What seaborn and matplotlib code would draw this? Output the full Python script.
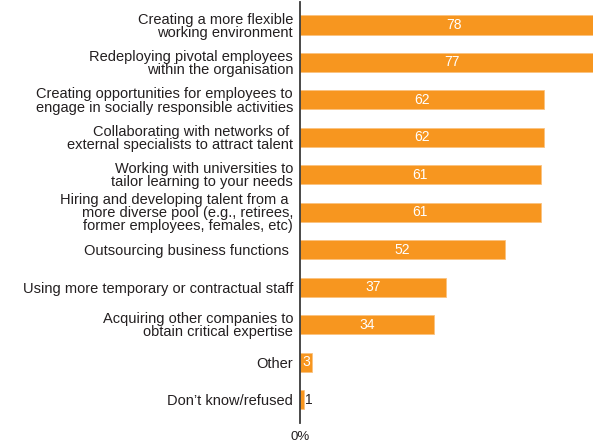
import matplotlib
matplotlib.use("Agg")
import matplotlib.pyplot as plt
import seaborn as sns

categories = [
    "Creating a more flexible\nworking environment",
    "Redeploying pivotal employees\nwithin the organisation",
    "Creating opportunities for employees to\nengage in socially responsible activities",
    "Collaborating with networks of \nexternal specialists to attract talent",
    "Working with universities to\ntailor learning to your needs",
    "Hiring and developing talent from a \nmore diverse pool (e.g., retirees,\nformer employees, females, etc)",
    "Outsourcing business functions ",
    "Using more temporary or contractual staff",
    "Acquiring other companies to\nobtain critical expertise",
    "Other",
    "Don\u2019t know/refused",
]
values = [78, 77, 62, 62, 61, 61, 52, 37, 34, 3, 1]
x_tick_labels = ["0%"]

ORANGE = "#F7961F"
TEXT = "#231F20"

sns.set_theme(style="white")
plt.rcParams["font.family"] = ["Liberation Sans", "DejaVu Sans"]

fig = plt.figure(figsize=(5.93, 4.43), dpi=100)
ax = fig.add_axes([0.5059, 0.0451, 0.4941, 0.9503])

sns.barplot(x=values, y=categories, color=ORANGE, width=0.51,
            saturation=1, ax=ax, orient="h",
            edgecolor="#FBC27F", linewidth=0.6)

ax.set_xlim(0, 74.3)
ax.set_ylim(10.627, -0.614)

for spine in ["top", "right", "bottom"]:
    ax.spines[spine].set_visible(False)
ax.spines["left"].set_color("#3a3a3a")
ax.spines["left"].set_linewidth(1.3)
ax.spines["left"].set_zorder(5)

ax.set_xticks([0])
ax.set_xticklabels(x_tick_labels, fontsize=9.5, color=TEXT)
ax.tick_params(axis="x", length=0, pad=6)
ax.tick_params(axis="y", length=0, pad=5)
for lbl in ax.get_yticklabels():
    lbl.set_fontsize(10.5)
    lbl.set_color(TEXT)
    lbl.set_linespacing(0.92)
ax.set_xlabel("")
ax.set_ylabel("")

# value labels: inside the bar in white, outside in dark for tiny bars
for i, v in enumerate(values):
    if v >= 3:
        ax.text(v / 2, i, str(v), ha="center", va="center",
                color="white", fontsize=10)
    else:
        ax.text(v + 1.3, i, str(v), ha="center", va="center",
                color=TEXT, fontsize=10)

fig.savefig("out.png", dpi=100)
